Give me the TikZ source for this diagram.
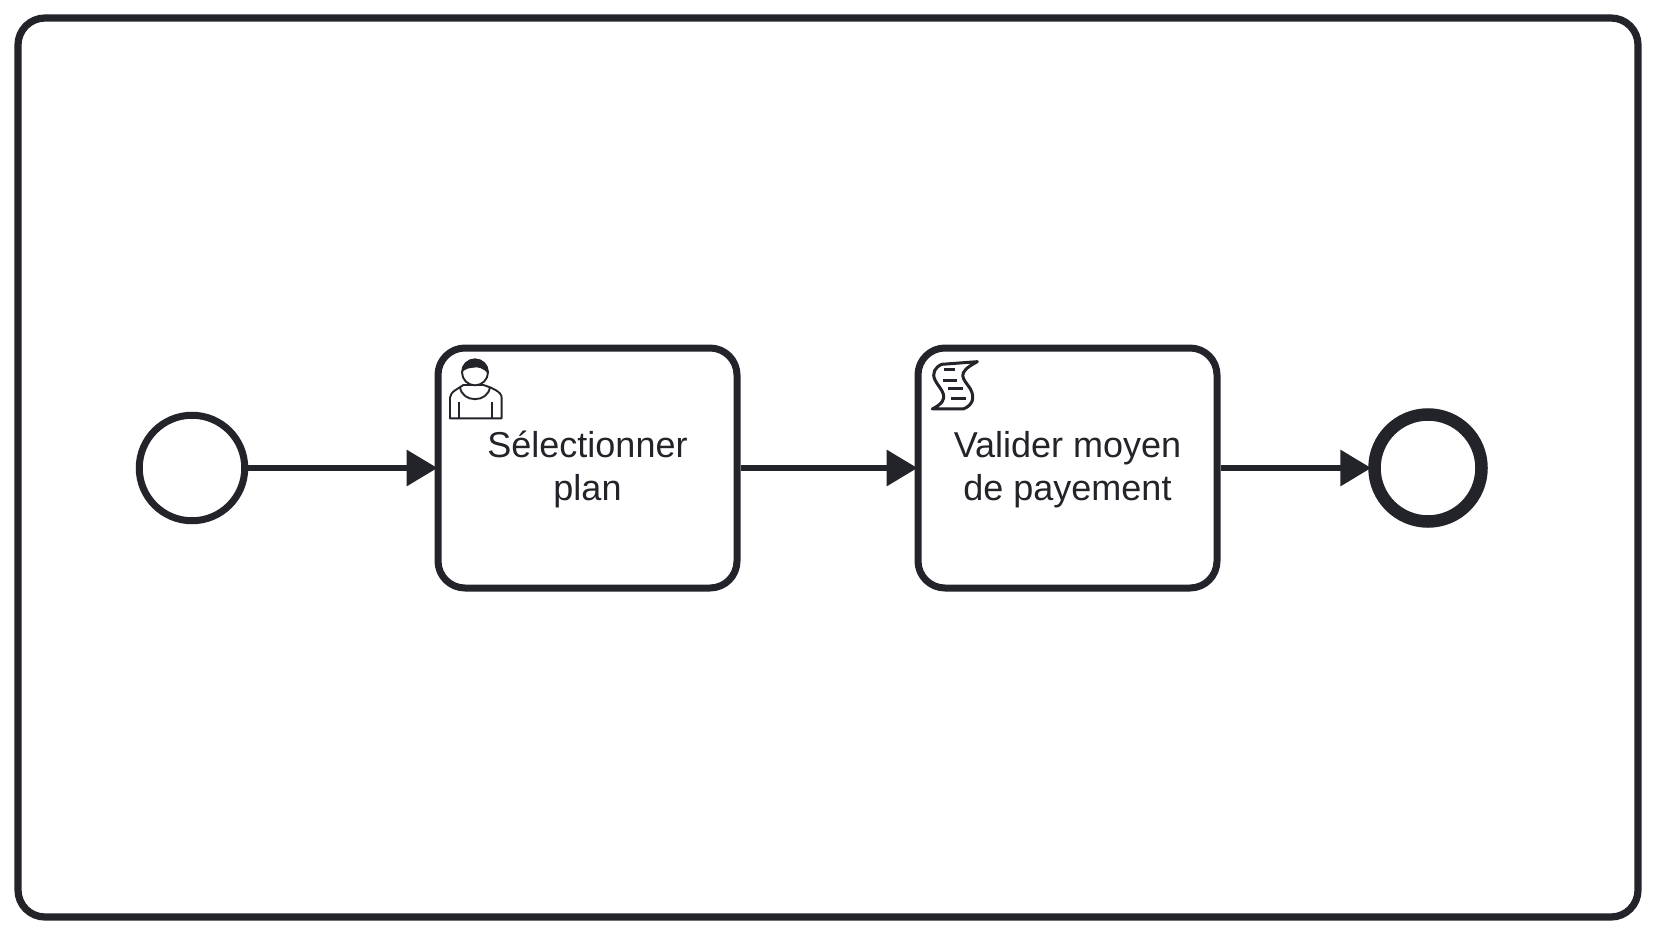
\documentclass[tikz,border=0pt]{standalone}
\usepackage{fontspec}
\setmainfont{Liberation Sans}
\usetikzlibrary{arrows.meta}
\definecolor{ink}{HTML}{22242A}
\newcommand\tasklines[2]{\raisebox{-1.5pt}[\height][\depth]{#1}\\\raisebox{-1.5pt}[\height][\depth]{#2}}
\tikzset{
  frame/.style={draw=ink,line width=7.2pt,rounded corners=27pt,minimum width=1620pt,minimum height=899pt,inner sep=0pt},
  startev/.style={circle,draw=ink,fill=white,line width=7pt,minimum size=105.5pt,inner sep=0pt},
  endev/.style={circle,draw=ink,fill=white,line width=12.5pt,minimum size=107pt,inner sep=0pt},
  taskbox/.style={draw=ink,fill=white,line width=7pt,rounded corners=27pt,minimum width=299pt,minimum height=240pt,inner sep=0pt,text=ink,align=center,font=\fontsize{36pt}{43pt}\selectfont},
  flow/.style={draw=ink,line width=6.6pt,-{Triangle[length=31pt,width=35pt]},shorten >=-3pt},
  icon/.style={draw=ink,line width=1.9pt,line join=round,fill=white},
  iconline/.style={draw=ink,line width=1.9pt},
}
\begin{document}
\begin{tikzpicture}[x=1pt,y=-1pt]
\useasboundingbox (0,0) rectangle (1656,936);
\fill[white] (0,0) rectangle (1656,936);
\node[frame] (pool) at (828,467.5) {};
\node[startev] (start) at (192,468) {};
\node[taskbox] (select) at (587.5,468) {\tasklines{Sélectionner}{plan}};
\node[taskbox] (validate) at (1067.5,468) {\tasklines{Valider moyen}{de payement}};
\node[endev] (finish) at (1428,468) {};
\draw[flow] (start) -- (select);
\draw[flow] (select) -- (validate);
\draw[flow] (validate) -- (finish);
% user icon
\begin{scope}[shift={(420,335)},x=0.3333pt,y=-0.3333pt]
\draw[icon] (130,150) .. controls (120,158) and (90,170) .. (90,188) -- (90,250) -- (245,250) -- (245,188) .. controls (245,170) and (215,158) .. (190,150) -- cycle;
\draw[iconline] (120,155) .. controls (125,205) and (205,205) .. (210,155);
\draw[iconline] (117,202) -- (117,250);
\draw[iconline] (216,202) -- (216,250);
\draw[icon] (165,112) circle[radius=39];
\fill[ink] (126,112) .. controls (126,58) and (204,58) .. (204,116) .. controls (192,100) and (172,94) .. (160,98) .. controls (146,99) and (135,102) .. (126,112) -- cycle;
\end{scope}
% script icon
\begin{scope}[shift={(900,335)},x=0.3333pt,y=-0.3333pt]
\draw[icon,line width=3pt] (232,80) -- (125,88) .. controls (105,97) and (95,115) .. (105,135) .. controls (120,165) and (160,190) .. (97,222) -- (190,222) .. controls (215,212) and (228,190) .. (210,160) .. controls (190,130) and (165,115) .. (232,80) -- cycle;
\draw[iconline,line width=3pt] (133,105) -- (165,105);
\draw[iconline,line width=3pt] (130,137) -- (170,137);
\draw[iconline,line width=3pt] (145,162) -- (188,162);
\draw[iconline,line width=3pt] (153,190) -- (197,190);
\end{scope}
\end{tikzpicture}
\end{document}
